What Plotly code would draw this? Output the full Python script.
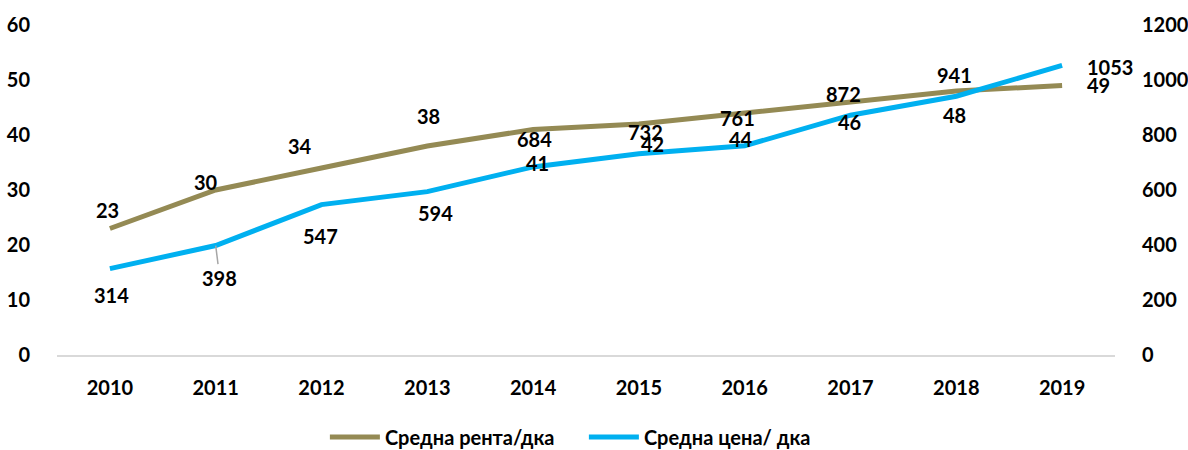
import plotly.graph_objects as go

years = ["2010", "2011", "2012", "2013", "2014", "2015", "2016", "2017", "2018", "2019"]
rent = [23, 30, 34, 38, 41, 42, 44, 46, 48, 49]
price = [314, 398, 547, 594, 684, 732, 761, 872, 941, 1053]
rent_name = "Средна рента/дка"
price_name = "Средна цена/ дка"

# label offsets in pixels (x, y-up)
rent_off = [(-2, 19), (-10, 8), (-22, 22), (1, 30), (4, -33), (14, -20), (-4, -26), (-1, -20), (-2, -24), (23, 1)]
price_off = [(2, -26), (4, -32), (-1, -31), (8, -21), (1, 28), (7, 22), (-7, 28), (-7, 21), (-2, 21), (23, -2)]

OLIVE = "#948A54"
BLUE = "#00B0F0"
FONT = "Lato, 'Open Sans', sans-serif"
LF = dict(size=20, color="black", family=FONT, weight="bold")

fig = go.Figure()
fig.add_trace(go.Scatter(x=years, y=rent, name=rent_name, mode="lines",
                         line=dict(color=OLIVE, width=5), yaxis="y"))
fig.add_trace(go.Scatter(x=years, y=price, name=price_name, mode="lines",
                         line=dict(color=BLUE, width=5), yaxis="y2"))

anns = []
n = len(years)
for i, v in enumerate(rent):
    dx, dy = rent_off[i]
    anns.append(dict(x=i, y=v, xref="x", yref="y", text=str(v), showarrow=False,
                     xanchor="left" if i == n - 1 else "center",
                     xshift=dx, yshift=dy, font=LF))
for i, v in enumerate(price):
    dx, dy = price_off[i]
    if i == 1:
        anns.append(dict(x=i, y=v, xref="x", yref="y2", text=str(v), showarrow=True,
                         arrowhead=0, arrowwidth=1.5, arrowcolor="#A6A6A6", ax=dx, ay=-dy,
                         standoff=0, font=LF))
    else:
        anns.append(dict(x=i, y=v, xref="x", yref="y2", text=str(v), showarrow=False,
                         xanchor="left" if i == n - 1 else "center",
                         xshift=dx, yshift=dy, font=LF))

fig.update_layout(
    width=1188, height=450,
    margin=dict(l=57, r=73, t=25, b=95),
    plot_bgcolor="white", paper_bgcolor="white",
    font=dict(family=FONT, size=20, color="black"),
    xaxis=dict(type="category", range=[-0.5, 9.5], showgrid=False, showline=True,
               linecolor="#D9D9D9", linewidth=2, ticks="outside", ticklen=14,
               tickcolor="rgba(0,0,0,0)", tickfont=LF, automargin=False),
    yaxis=dict(range=[0, 60], dtick=10, showgrid=False, zeroline=False, showline=False,
               ticks="outside", ticklen=22, tickcolor="rgba(0,0,0,0)",
               tickfont=LF, automargin=False),
    yaxis2=dict(range=[0, 1200], dtick=200, overlaying="y", side="right", showgrid=False,
                zeroline=False, showline=False, ticks="outside", ticklen=22,
                tickcolor="rgba(0,0,0,0)", tickfont=LF, automargin=False),
    legend=dict(orientation="h", x=0.498, xanchor="center", yref="container",
                y=(450 - 437) / 450, yanchor="middle",
                font=LF, itemwidth=50, entrywidth=194),
    annotations=anns,
    showlegend=True,
)

fig.write_html("out.html", config={"displayModeBar": False},
               post_script="document.body.style.margin='0px';document.body.style.overflow='hidden';")
